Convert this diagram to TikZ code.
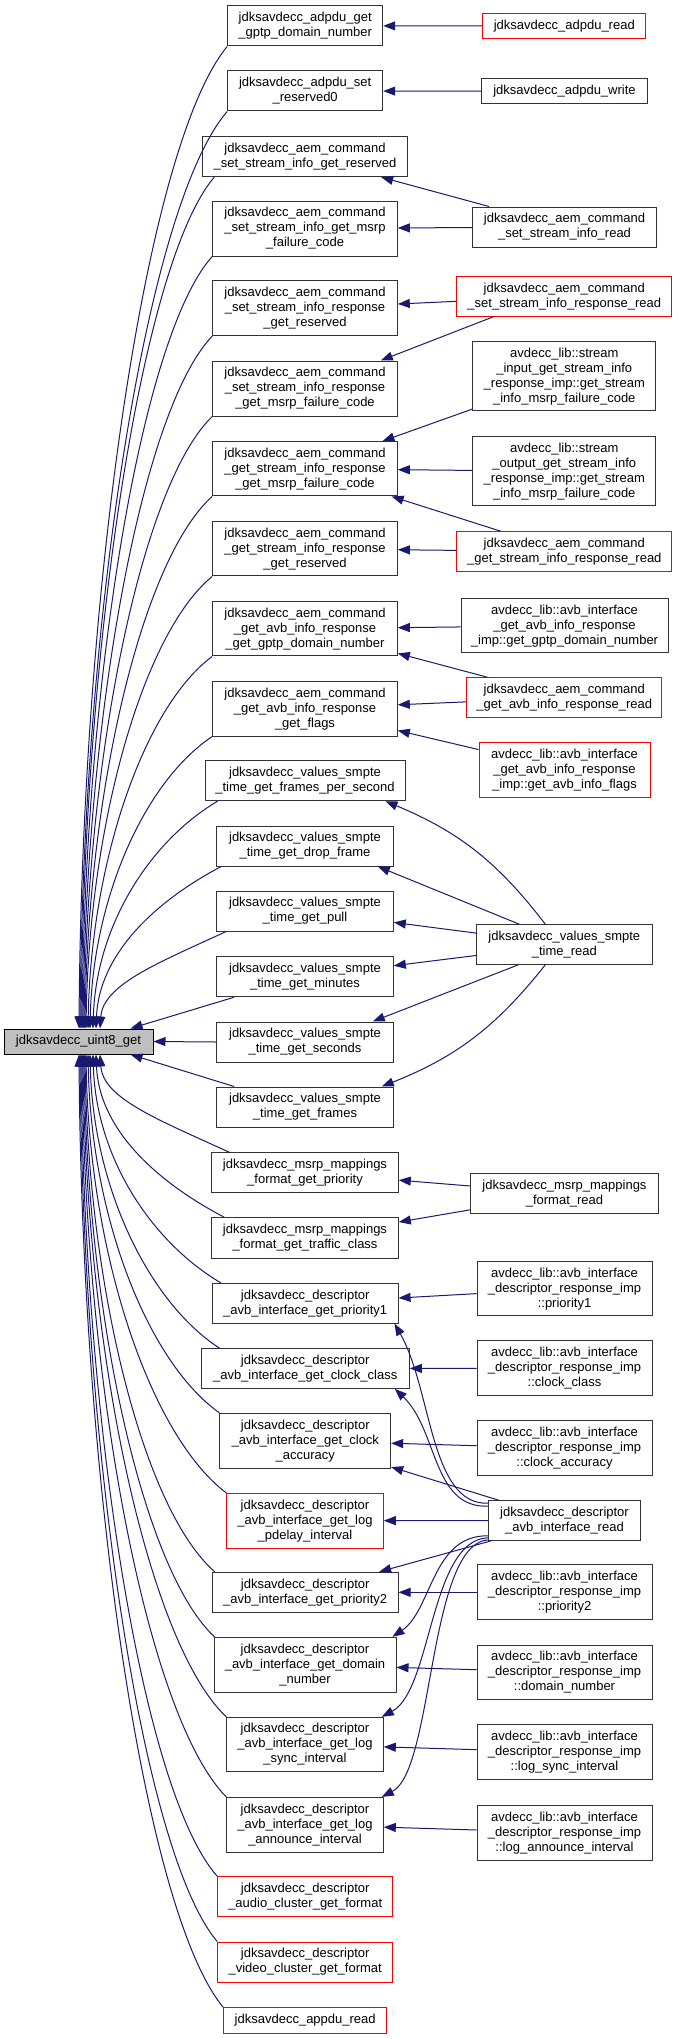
\documentclass[tikz,border=0pt]{standalone}
\usepackage{fontspec}
\setmainfont{Liberation Sans}
\usetikzlibrary{arrows.meta}
\definecolor{edgeblue}{HTML}{191970}
\definecolor{boxred}{HTML}{FF0000}
\begin{document}
\begin{tikzpicture}[x=1pt,y=1pt,
  box/.style={draw=black!80, line width=1pt, fill=white, align=center, inner sep=1pt, font=\fontsize{13}{15}\selectfont},
  rbox/.style={box, draw=boxred},
  mainbox/.style={box, fill=black!25, draw=black},
  edge/.style={draw=edgeblue, line width=1pt, -{Triangle[length=12pt,width=9pt]}},
]
\useasboundingbox (0,0) rectangle (677,-2039);
\fill[white] (0,0) rectangle (677,-2039);

% main node
\node[mainbox, minimum width=149pt, minimum height=25pt] (main) at (78.5,-1041.5) {jdksavdecc\_uint8\_get};

% middle column
\node[box, minimum width=155pt, minimum height=40.3pt] (n1) at (305.2,-25.85) {jdksavdecc\_adpdu\_get\\\_gptp\_domain\_number};
\node[box, minimum width=155pt, minimum height=40pt] (n2) at (305.2,-91) {jdksavdecc\_adpdu\_set\\\_reserved0};
\node[box, minimum width=204.6pt, minimum height=40.4pt] (n3) at (305,-156.5) {jdksavdecc\_aem\_command\\\_set\_stream\_info\_get\_reserved};
\node[box, minimum width=184.6pt, minimum height=55pt] (n4) at (305,-228.5) {jdksavdecc\_aem\_command\\\_set\_stream\_info\_get\_msrp\\\_failure\_code};
\node[box, minimum width=184.6pt, minimum height=54.7pt] (n5) at (305,-308.3) {jdksavdecc\_aem\_command\\\_set\_stream\_info\_response\\\_get\_reserved};
\node[box, minimum width=184.6pt, minimum height=55pt] (n6) at (305,-388.5) {jdksavdecc\_aem\_command\\\_set\_stream\_info\_response\\\_get\_msrp\_failure\_code};
\node[box, minimum width=184.6pt, minimum height=54.3pt] (n7) at (305,-468.8) {jdksavdecc\_aem\_command\\\_get\_stream\_info\_response\\\_get\_msrp\_failure\_code};
\node[box, minimum width=184.6pt, minimum height=54.3pt] (n8) at (305,-548.8) {jdksavdecc\_aem\_command\\\_get\_stream\_info\_response\\\_get\_reserved};
\node[box, minimum width=184.6pt, minimum height=54.3pt] (n9) at (305,-628.8) {jdksavdecc\_aem\_command\\\_get\_avb\_info\_response\\\_get\_gptp\_domain\_number};
\node[box, minimum width=184.6pt, minimum height=54.7pt] (n10) at (305,-708.7) {jdksavdecc\_aem\_command\\\_get\_avb\_info\_response\\\_get\_flags};
\node[box, minimum width=200pt, minimum height=40pt] (n11) at (305,-780.7) {jdksavdecc\_values\_smpte\\\_time\_get\_frames\_per\_second};
\node[box, minimum width=176.6pt, minimum height=40pt] (n12) at (305,-846) {jdksavdecc\_values\_smpte\\\_time\_get\_drop\_frame};
\node[box, minimum width=176.6pt, minimum height=40pt] (n13) at (305,-911) {jdksavdecc\_values\_smpte\\\_time\_get\_pull};
\node[box, minimum width=176.6pt, minimum height=40pt] (n14) at (305,-976.7) {jdksavdecc\_values\_smpte\\\_time\_get\_minutes};
\node[box, minimum width=176.6pt, minimum height=40pt] (n15) at (305,-1042) {jdksavdecc\_values\_smpte\\\_time\_get\_seconds};
\node[box, minimum width=176.6pt, minimum height=40pt] (n16) at (305,-1107) {jdksavdecc\_values\_smpte\\\_time\_get\_frames};
\node[box, minimum width=186.6pt, minimum height=39.6pt] (n17) at (305,-1172.5) {jdksavdecc\_msrp\_mappings\\\_format\_get\_priority};
\node[box, minimum width=186.6pt, minimum height=40.6pt] (n18) at (305,-1238) {jdksavdecc\_msrp\_mappings\\\_format\_get\_traffic\_class};
\node[box, minimum width=185.7pt, minimum height=39.7pt] (n19) at (305.2,-1303.2) {jdksavdecc\_descriptor\\\_avb\_interface\_get\_priority1};
\node[box, minimum width=208.3pt, minimum height=39.6pt] (n20) at (305.2,-1368.5) {jdksavdecc\_descriptor\\\_avb\_interface\_get\_clock\_class};
\node[box, minimum width=170.7pt, minimum height=54.7pt] (n21) at (305.3,-1440.7) {jdksavdecc\_descriptor\\\_avb\_interface\_get\_clock\\\_accuracy};
\node[rbox, minimum width=156.6pt, minimum height=54.7pt] (n22) at (305,-1520.7) {jdksavdecc\_descriptor\\\_avb\_interface\_get\_log\\\_pdelay\_interval};
\node[box, minimum width=185.7pt, minimum height=40pt] (n23) at (305.2,-1592.3) {jdksavdecc\_descriptor\\\_avb\_interface\_get\_priority2};
\node[box, minimum width=182pt, minimum height=55pt] (n24) at (305,-1664.8) {jdksavdecc\_descriptor\\\_avb\_interface\_get\_domain\\\_number};
\node[box, minimum width=156.6pt, minimum height=54.4pt] (n25) at (305,-1744.5) {jdksavdecc\_descriptor\\\_avb\_interface\_get\_log\\\_sync\_interval};
\node[box, minimum width=156.6pt, minimum height=54.7pt] (n26) at (305,-1824.7) {jdksavdecc\_descriptor\\\_avb\_interface\_get\_log\\\_announce\_interval};
\node[rbox, minimum width=175pt, minimum height=40pt] (n27) at (305.2,-1896.7) {jdksavdecc\_descriptor\\\_audio\_cluster\_get\_format};
\node[rbox, minimum width=175pt, minimum height=40pt] (n28) at (305.2,-1962) {jdksavdecc\_descriptor\\\_video\_cluster\_get\_format};
\node[rbox, minimum width=163pt, minimum height=25.6pt] (n29) at (305.2,-2020.5) {jdksavdecc\_appdu\_read};

% right column
\node[rbox, minimum width=163.3pt, minimum height=25.4pt] (R1) at (564.3,-26) {jdksavdecc\_adpdu\_read};
\node[box, minimum width=165.6pt, minimum height=25.3pt] (R2) at (564.5,-91.3) {jdksavdecc\_adpdu\_write};
\node[box, minimum width=184.4pt, minimum height=40pt] (R3) at (564.5,-227) {jdksavdecc\_aem\_command\\\_set\_stream\_info\_read};
\node[rbox, minimum width=215.3pt, minimum height=40pt] (R4) at (564.3,-296.3) {jdksavdecc\_aem\_command\\\_set\_stream\_info\_response\_read};
\node[box, minimum width=183.3pt, minimum height=69.3pt] (R5) at (564.3,-376.3) {avdecc\_lib::stream\\\_input\_get\_stream\_info\\\_response\_imp::get\_stream\\\_info\_msrp\_failure\_code};
\node[box, minimum width=183.3pt, minimum height=69.3pt] (R6) at (564.3,-471.3) {avdecc\_lib::stream\\\_output\_get\_stream\_info\\\_response\_imp::get\_stream\\\_info\_msrp\_failure\_code};
\node[rbox, minimum width=215.3pt, minimum height=39.6pt] (R7) at (564.3,-551.5) {jdksavdecc\_aem\_command\\\_get\_stream\_info\_response\_read};
\node[box, minimum width=207pt, minimum height=54pt] (R8) at (564.5,-625.7) {avdecc\_lib::avb\_interface\\\_get\_avb\_info\_response\\\_imp::get\_gptp\_domain\_number};
\node[rbox, minimum width=195.3pt, minimum height=40pt] (R9) at (564.3,-697.7) {jdksavdecc\_aem\_command\\\_get\_avb\_info\_response\_read};
\node[rbox, minimum width=171pt, minimum height=55pt] (R10) at (564.5,-769.8) {avdecc\_lib::avb\_interface\\\_get\_avb\_info\_response\\\_imp::get\_avb\_info\_flags};
\node[box, minimum width=176pt, minimum height=39.6pt] (R11) at (564.3,-944.5) {jdksavdecc\_values\_smpte\\\_time\_read};
\node[box, minimum width=187.6pt, minimum height=40pt] (R12) at (564.5,-1193.7) {jdksavdecc\_msrp\_mappings\\\_format\_read};
\node[box, minimum width=175pt, minimum height=54pt] (R13) at (564.5,-1288.7) {avdecc\_lib::avb\_interface\\\_descriptor\_response\_imp\\::priority1};
\node[box, minimum width=175pt, minimum height=54.7pt] (R14) at (564.5,-1368.3) {avdecc\_lib::avb\_interface\\\_descriptor\_response\_imp\\::clock\_class};
\node[box, minimum width=175pt, minimum height=54.7pt] (R15) at (564.5,-1448.3) {avdecc\_lib::avb\_interface\\\_descriptor\_response\_imp\\::clock\_accuracy};
\node[box, minimum width=152.4pt, minimum height=39.6pt] (R16) at (564.5,-1520.5) {jdksavdecc\_descriptor\\\_avb\_interface\_read};
\node[box, minimum width=175pt, minimum height=54.7pt] (R17) at (564.5,-1592.3) {avdecc\_lib::avb\_interface\\\_descriptor\_response\_imp\\::priority2};
\node[box, minimum width=175pt, minimum height=54.3pt] (R18) at (564.5,-1672.2) {avdecc\_lib::avb\_interface\\\_descriptor\_response\_imp\\::domain\_number};
\node[box, minimum width=175pt, minimum height=54.7pt] (R19) at (564.5,-1752.3) {avdecc\_lib::avb\_interface\\\_descriptor\_response\_imp\\::log\_sync\_interval};
\node[box, minimum width=175pt, minimum height=54.7pt] (R20) at (564.5,-1832.7) {avdecc\_lib::avb\_interface\\\_descriptor\_response\_imp\\::log\_announce\_interval};

% middle -> main
\draw[edge] (n1.south west) .. controls (145.9,-144.5) and (82,-586.7) .. ([xshift=0.5]main.north);
\draw[edge] (n2.south west) .. controls (146.5,-204.8) and (83,-615.9) .. ([xshift=1.5]main.north);
\draw[edge] ([xshift=12]n3.south west) .. controls (141.2,-263.1) and (84,-645.5) .. ([xshift=2.5]main.north);
\draw[edge] (n4.south west) .. controls (140.8,-336.2) and (85,-681.2) .. ([xshift=3.5]main.north);
\draw[edge] (n5.south west) .. controls (141.4,-410.1) and (86,-717) .. ([xshift=4.5]main.north);
\draw[edge] (n6.south west) .. controls (141.9,-484.6) and (87,-753.2) .. ([xshift=5.5]main.north);
\draw[edge] (n7.south west) .. controls (142.5,-558.8) and (88,-789.2) .. ([xshift=6.5]main.north);
\draw[edge] (n8.south west) .. controls (143,-633) and (89,-825.2) .. ([xshift=7.5]main.north);
\draw[edge] (n9.south west) .. controls (144.1,-707) and (91,-861.2) .. ([xshift=9.5]main.north);
\draw[edge] (n10.south west) .. controls (145.2,-781) and (93,-897.2) .. ([xshift=11.5]main.north);
\draw[edge] ([xshift=13]n11.south west) .. controls (149.3,-841.7) and (96,-926.3) .. ([xshift=14.5]main.north);
\draw[edge] ([xshift=5]n12.south west) .. controls (152.7,-902.6) and (99,-955.7) .. ([xshift=17.5]main.north);
\draw[edge] ([xshift=10]n13.south west) .. controls (157.1,-963.3) and (103,-984.9) .. ([xshift=21.5]main.north);
\draw[edge] ([xshift=18]n14.south west) -- ([xshift=52]main.north);
\draw[edge] (n15.west) -- (main.east);
\draw[edge] ([xshift=18]n16.north west) -- ([xshift=52]main.south);
\draw[edge] ([xshift=18]n17.north west) .. controls (158.5,-1119.8) and (103,-1098.4) .. ([xshift=21.5]main.south);
\draw[edge] ([xshift=13]n18.north west) .. controls (154,-1180.4) and (99,-1127.7) .. ([xshift=17.5]main.south);
\draw[edge] ([xshift=9]n19.north west) .. controls (150.9,-1241.5) and (96,-1157.2) .. ([xshift=14.5]main.south);
\draw[edge] ([xshift=19]n20.north west) .. controls (148.5,-1302.1) and (93,-1186.6) .. ([xshift=11.5]main.south);
\draw[edge] (n21.north west) .. controls (147.4,-1361.7) and (91,-1215.7) .. ([xshift=9.5]main.south);
\draw[edge] (n22.north west) .. controls (149.3,-1434.4) and (89,-1251.7) .. ([xshift=7.5]main.south);
\draw[edge] ([xshift=3]n23.north west) .. controls (143.5,-1510) and (88,-1287.2) .. ([xshift=6.5]main.south);
\draw[edge] ([xshift=1]n24.north west) .. controls (143,-1570.3) and (87,-1316.5) .. ([xshift=5.5]main.south);
\draw[edge] (n25.north west) .. controls (147.7,-1642.2) and (86,-1352.5) .. ([xshift=4.5]main.south);
\draw[edge] (n26.north west) .. controls (147.1,-1716.4) and (85,-1388.5) .. ([xshift=3.5]main.south);
\draw[edge] (n27.north west) .. controls (142.5,-1791.8) and (84,-1424.2) .. ([xshift=2.5]main.south);
\draw[edge] (n28.north west) .. controls (142,-1852.3) and (83,-1453.6) .. ([xshift=1.5]main.south);
\draw[edge] (n29.north west) .. controls (144.1,-1912) and (82,-1483.2) .. ([xshift=0.5]main.south);

% right -> middle
\draw[edge] (R1) -- (n1);
\draw[edge] (R2) -- (n2);
\draw[edge] (R3) -- (n3);
\draw[edge] (R3) -- (n4);
\draw[edge] (R4) -- (n5);
\draw[edge] ([xshift=-71]R4.south) -- ([xshift=-17]n6.north east);
\draw[edge] (R5) -- (n7);
\draw[edge] (R6) -- (n7);
\draw[edge] (R7) -- (n7);
\draw[edge] (R7) -- (n8);
\draw[edge] (R8) -- (n9);
\draw[edge] (R9) -- (n9);
\draw[edge] (R9) -- (n10);
\draw[edge] (R10) -- (n10);
\draw[edge] ([xshift=-19]R11.north) to[bend right=15] ([xshift=-20]n11.south east);
\draw[edge] ([xshift=-45]R11.north) -- ([xshift=-16]n12.south east);
\draw[edge] (R11) -- (n13);
\draw[edge] (R11) -- (n14);
\draw[edge] ([xshift=-46]R11.south) -- ([xshift=-21]n15.north east);
\draw[edge] ([xshift=-19]R11.south) to[bend left=15] ([xshift=-12]n16.north east);
\draw[edge] (R12) -- (n17);
\draw[edge] (R12) -- (n18);
\draw[edge] (R13) -- (n19);
\draw[edge] (R14) -- (n20);
\draw[edge] (R15) -- (n21);
\draw[edge] ([yshift=-3]R16.north west) .. controls (430,-1505) and (432,-1390) .. ([xshift=-4]n19.south east);
\draw[edge] ([yshift=-6]R16.north west) .. controls (432,-1508) and (438,-1430) .. ([xshift=-15]n20.south east);
\draw[edge] (R16) -- (n21);
\draw[edge] (R16) -- (n22);
\draw[edge] (R16) -- (n23);
\draw[edge] ([yshift=5]R16.south west) .. controls (432,-1535) and (432,-1610) .. ([xshift=-4]n24.north east);
\draw[edge] ([yshift=3]R16.south west) .. controls (430,-1540) and (432,-1690) .. ([xshift=-2]n25.north east);
\draw[edge] ([yshift=1]R16.south west) .. controls (428,-1545) and (434,-1770) .. ([xshift=-2]n26.north east);
\draw[edge] (R17) -- (n23);
\draw[edge] (R18) -- (n24);
\draw[edge] (R19) -- (n25);
\draw[edge] (R20) -- (n26);
\end{tikzpicture}
\end{document}
